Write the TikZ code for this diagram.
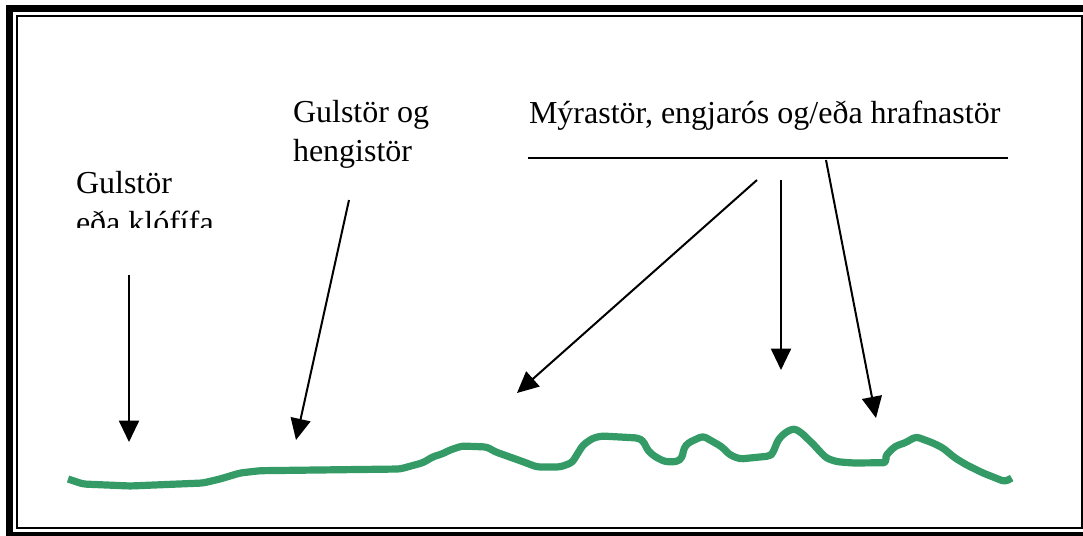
\documentclass[tikz,border=0pt]{standalone}
\usepackage{fontspec}
\setmainfont{Liberation Serif}
\usetikzlibrary{arrows.meta}
\definecolor{seagreen}{RGB}{52,155,102}
\tikzset{
  lbl/.style={anchor=base west,inner sep=0pt,outer sep=0pt,font=\fontsize{24}{29}\selectfont},
  pointer/.style={line width=1.5pt,-{Triangle[length=16pt,width=15pt]}},
  ground/.style={seagreen,line width=5.4pt,line join=round,line cap=butt,rounded corners=2.5pt}
}
\begin{document}
\begin{tikzpicture}[x=0.75pt,y=-0.75pt]
\useasboundingbox (0,0) rectangle (1083,536);
\begin{scope}
\clip (0,0) rectangle (1083,536);
% frame
\draw[line width=5.25pt] (9.5,8.5) rectangle (1095,535.5);
\draw[line width=1.5pt] (16.5,16) rectangle (1081.5,528);
\end{scope}
% labels
\begin{scope}
\clip (0,0) rectangle (300,227);
\node[lbl] (g1) at (76,193) {Gulstör};
\node[lbl] (g2) at (76,233) {eða klófífa};
\end{scope}
\node[lbl] (h1) at (293,122) {Gulstör og};
\node[lbl] (h2) at (293,161) {hengistör};
\node[lbl] (m1) at (529,123) {Mýrastör, engjarós og/eða hrafnastör};
\coordinate (la) at (528,158);
\coordinate (lb) at (1008,158);
\draw[line width=1.5pt] (la) -- (lb);
% arrows
\coordinate (a1s) at (129,275); \coordinate (a1e) at (129,442);
\coordinate (a2s) at (349,200); \coordinate (a2e) at (296,440);
\coordinate (a3s) at (757,180); \coordinate (a3e) at (517,393);
\coordinate (a4s) at (781,180); \coordinate (a4e) at (781,370);
\coordinate (a5s) at (826,160); \coordinate (a5e) at (876,418);
\draw[pointer] (a1s) -- (a1e);
\draw[pointer] (a2s) -- (a2e);
\draw[pointer] (a3s) -- (a3e);
\draw[pointer] (a4s) -- (a4e);
\draw[pointer] (a5s) -- (a5e);
% ground line
\draw[ground] (68,479) -- (83,484) -- (130,486) -- (203,483) -- (220,479) -- (240,473) -- (260,470.7)
 -- (400,469) -- (423,462.7) -- (433,456.7) -- (442,454) -- (450,450) -- (462,446) -- (487,447)
 -- (495,451.7) -- (523,461.7) -- (537,467) -- (560,467) -- (572,462.7) -- (578,453) -- (583,445)
 -- (593,438) -- (602,436) -- (638,438) -- (643,440.7) -- (648,450.7) -- (655,456.7) -- (665,461.7)
 -- (677,461.7) -- (682,458) -- (684,448) -- (688,443) -- (703,436) -- (721.7,446.7) -- (730,455)
 -- (740,459) -- (770,456) -- (773,452.7) -- (778,440) -- (785,432.7) -- (794,428.3) -- (801.7,433)
 -- (815,446) -- (820,451.7) -- (826.7,458.3) -- (836.7,461.7) -- (853,463) -- (886.7,462.7)
 -- (885,456.7) -- (893,448) -- (898,445) -- (905,443) -- (910,440) -- (916,436.7) -- (933,443)
 -- (943,448) -- (955,458) -- (966.7,465) -- (983,473) -- (1005,481.7) -- (1011.7,478);
\end{tikzpicture}
\end{document}
